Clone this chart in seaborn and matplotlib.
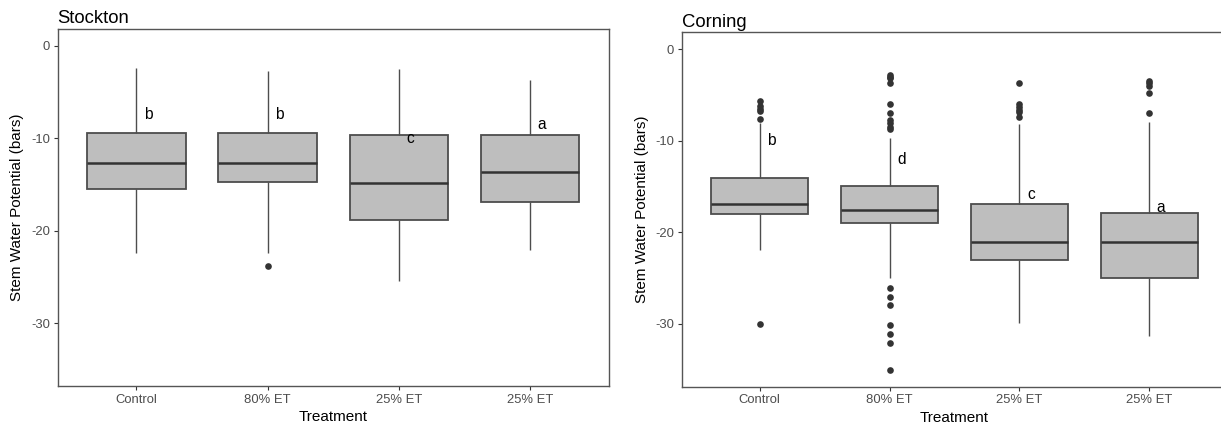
import numpy as np
import pandas as pd
import matplotlib
matplotlib.use("Agg")
import matplotlib.pyplot as plt
import seaborn as sns

# ---------------- data ----------------
GROUP_KEYS = ["g0", "g1", "g2", "g3"]
TICK_LABELS = ["Control", "80% ET", "25% ET", "25% ET"]
SITES = ["Stockton", "Corning"]

# five-number summaries per group: [lower whisker, Q1, median, Q3, upper whisker]
stockton_lo = [-22.4, -22.4, -25.5, -22.1]
stockton_q1 = [-15.5, -14.7, -18.8, -16.9]
stockton_med = [-12.7, -12.65, -14.8, -13.7]
stockton_q3 = [-9.4, -9.4, -9.65, -9.65]
stockton_hi = [-2.45, -2.7, -2.56, -3.7]
stockton_outliers = {"g1": [-23.8]}
stockton_letters = ["b", "b", "c", "a"]
stockton_letter_y = [-7.4, -7.4, -10.0, -8.5]

corning_lo = [-22.0, -25.0, -29.9, -31.4]
corning_q1 = [-18.05, -19.0, -23.05, -25.05]
corning_med = [-16.95, -17.55, -21.05, -21.05]
corning_q3 = [-14.05, -15.0, -16.9, -17.95]
corning_hi = [-8.1, -9.74, -8.17, -7.92]
corning_outliers = {
    "g0": [-5.6, -6.2, -6.5, -6.75, -7.66, -30.0],
    "g1": [-2.81, -3.0, -3.1, -3.72, -6.02, -7.0, -7.77, -8.1, -8.47, -8.75,
           -26.15, -27.1, -28.0, -30.1, -31.1, -32.1, -35.1],
    "g2": [-3.72, -6.0, -6.35, -6.64, -6.9, -7.37],
    "g3": [-3.43, -3.72, -3.98, -4.75, -7.0],
}
corning_letters = ["b", "d", "c", "a"]
corning_letter_y = [-10.0, -12.0, -15.9, -17.3]

# ---------------- build tables for seaborn ----------------
def summary_frame(lo, q1, med, q3, hi):
    rows = []
    for k, a, b, c, d, e in zip(GROUP_KEYS, lo, q1, med, q3, hi):
        for v in (a, b, c, d, e):
            rows.append({"group": k, "value": v})
    return pd.DataFrame(rows)

def outlier_frame(outs):
    rows = [{"group": k, "value": v} for k, vals in outs.items() for v in vals]
    return pd.DataFrame(rows)

panels = [
    dict(title="Stockton",
         box=summary_frame(stockton_lo, stockton_q1, stockton_med, stockton_q3, stockton_hi),
         out=outlier_frame(stockton_outliers),
         letters=stockton_letters, letter_y=stockton_letter_y,
         rect=[57.7 / 1221, (425 - 386) / 425, (609 - 57.7) / 1221, (386 - 29) / 425],
         ylim=(-36.8, 1.8)),
    dict(title="Corning",
         box=summary_frame(corning_lo, corning_q1, corning_med, corning_q3, corning_hi),
         out=outlier_frame(corning_outliers),
         letters=corning_letters, letter_y=corning_letter_y,
         rect=[681.7 / 1221, (425 - 386.7) / 425, (1227.2 - 681.7) / 1221, (386.7 - 32.3) / 425],
         ylim=(-36.9, 1.86)),
]

# ---------------- style ----------------
sns.set_theme(style="white")
plt.rcParams["font.family"] = ["Liberation Sans", "DejaVu Sans"]
plt.rcParams["axes.unicode_minus"] = False

fig = plt.figure(figsize=(12.21, 4.25), dpi=100)

for p in panels:
    ax = fig.add_axes(p["rect"])
    sns.boxplot(data=p["box"], x="group", y="value", order=GROUP_KEYS, ax=ax,
                whis=(0, 100), showfliers=False, showcaps=False,
                color="#BEBEBE", saturation=1, width=0.75,
                linecolor="#4D4D4D", linewidth=1.3,
                medianprops=dict(color="#333333", linewidth=1.8),
                whiskerprops=dict(color="#4D4D4D", linewidth=1.0))
    sns.stripplot(data=p["out"], x="group", y="value", order=GROUP_KEYS, ax=ax,
                  jitter=False, color="#333333", size=4.8, linewidth=0)
    for i, (lab, ly) in enumerate(zip(p["letters"], p["letter_y"])):
        ax.text(i + 0.058, ly, lab, ha="left", va="center", fontsize=11.2, color="black")

    ax.set_xlim(-0.6, 3.6)
    ax.set_ylim(*p["ylim"])
    ax.set_xticks(range(len(GROUP_KEYS)))
    ax.set_xticklabels(TICK_LABELS)
    ax.set_yticks([0, -10, -20, -30])
    ax.set_yticklabels(["0", "-10", "-20", "-30"])
    ax.tick_params(axis="both", which="major", length=3, width=0.8, color="#333333",
                   labelsize=9.4, labelcolor="#4D4D4D", pad=2.5, bottom=True, left=True)
    for s in ax.spines.values():
        s.set_color("#555555")
        s.set_linewidth(1.0)
        s.set_visible(True)
    ax.grid(False)
    ax.set_facecolor("white")

    ax.set_xlabel("Treatment", fontsize=11, color="black")
    ax.set_ylabel("Stem Water Potential (bars)", fontsize=11, color="black")
    ax.xaxis.set_label_coords(0.5, -0.088)
    ax.xaxis.label.set_va("center")
    ax.yaxis.set_label_coords(-0.073, 0.5)
    ax.yaxis.label.set_va("center")
    ax.set_title(p["title"], loc="left", fontsize=13.3, color="black", pad=4)

fig.savefig("out.png", dpi=100)
